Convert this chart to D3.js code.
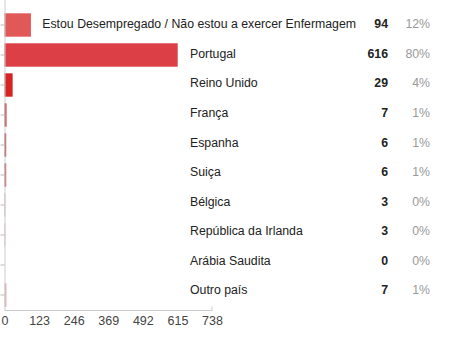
<!DOCTYPE html>
<html>
<head>
<meta charset="utf-8">
<script src="https://cdn.jsdelivr.net/npm/d3@7"></script>
<style>
  body { margin: 0; background: #fff; }
  text { font-family: Arial, "Liberation Sans", sans-serif; }
</style>
</head>
<body>
<div id="chart"></div>
<script>

var categories = ["Estou Desempregado / Não estou a exercer Enfermagem", "Portugal", "Reino Unido", "França",
    "Espanha", "Suiça", "Bélgica", "República da Irlanda", "Arábia Saudita", "Outro país"];
var counts = [94, 616, 29, 7, 6, 6, 3, 3, 0, 7];
var percents = ["12%", "80%", "4%", "1%", "1%", "1%", "0%", "0%", "0%", "1%"];
var ticks = [0, 123, 246, 369, 492, 615, 738];
var barColors = ["#e05858", "#dc3f45", "#d42424", "#b02a2a", "#b0303c", "#bd4450", "#d8a2a2", "#dcb0b0", "#e0b4b4", "#e0b0b0"];

var data = categories.map(function (c, i) {
    return {name: c, count: counts[i], pct: percents[i], color: barColors[i]};
});

var width = 465, height = 342;

var svg = d3.select("#chart")
    .append("svg")
    .attr("width", width)
    .attr("height", height);

var xScale = d3.scaleLinear()
    .domain([0, 738])
    .range([4.5, 212]);

var yScale = d3.scaleBand()
    .domain(categories)
    .range([10, 310])
    .paddingInner(0.22)
    .paddingOuter(0.11);

// table rows on the right
var rowScale = d3.scalePoint()
    .domain(categories)
    .range([24, 290]);

// bars
svg.selectAll("rect.bar")
    .data(data)
    .enter()
    .append("rect")
    .attr("class", "bar")
    .attr("x", xScale(0))
    .attr("y", function (d) { return yScale(d.name); })
    .attr("width", function (d) { return xScale(d.count) - xScale(0); })
    .attr("height", yScale.bandwidth())
    .style("fill", function (d) { return d.color; });

// y axis (ticks only)
var yAxis = svg.append("g")
    .attr("transform", "translate(" + xScale(0) + ",0)")
    .call(d3.axisLeft(yScale).tickSize(4).tickFormat(""));
yAxis.select(".domain").attr("stroke", "#ccc").attr("d", "M0.5,0V310");
yAxis.selectAll(".tick line").attr("stroke", "#bbb");

// x axis
var xAxis = svg.append("g")
    .attr("transform", "translate(0,310.5)")
    .call(d3.axisBottom(xScale).tickValues(ticks).tickSize(0).tickPadding(6).tickSizeOuter(0));
xAxis.select(".domain").attr("stroke", "#ccc").attr("d", "M" + xScale(0) + ",0H" + xScale(738) + "V-4");
xAxis.selectAll(".tick text")
    .style("font-family", "Arial, 'Liberation Sans', sans-serif")
    .style("font-size", "12.5px")
    .attr("fill", "#444");

// labels
var labels = svg.selectAll("text.label")
    .data(data)
    .enter()
    .append("text")
    .attr("class", "label")
    .attr("x", 190)
    .attr("y", function (d) { return rowScale(d.name); })
    .attr("dy", "0.35em")
    .style("font-size", "12.3px")
    .attr("fill", "#222")
    .text(function (d) { return d.name; });

// the long label overflows to the left of the column
labels.each(function () {
    var w = this.getComputedTextLength();
    if (190 + w > 358) {
        d3.select(this).attr("x", 356).attr("text-anchor", "end");
    }
});

svg.selectAll("text.count")
    .data(data)
    .enter()
    .append("text")
    .attr("class", "count")
    .attr("x", 388)
    .attr("y", function (d) { return rowScale(d.name); })
    .attr("dy", "0.35em")
    .attr("text-anchor", "end")
    .style("font-size", "12.3px")
    .style("font-weight", "bold")
    .attr("fill", "#222")
    .text(function (d) { return d.count; });

svg.selectAll("text.pct")
    .data(data)
    .enter()
    .append("text")
    .attr("class", "pct")
    .attr("x", 430)
    .attr("y", function (d) { return rowScale(d.name); })
    .attr("dy", "0.35em")
    .attr("text-anchor", "end")
    .style("font-size", "12.3px")
    .attr("fill", "#999")
    .text(function (d) { return d.pct; });

</script>
</body>
</html>
